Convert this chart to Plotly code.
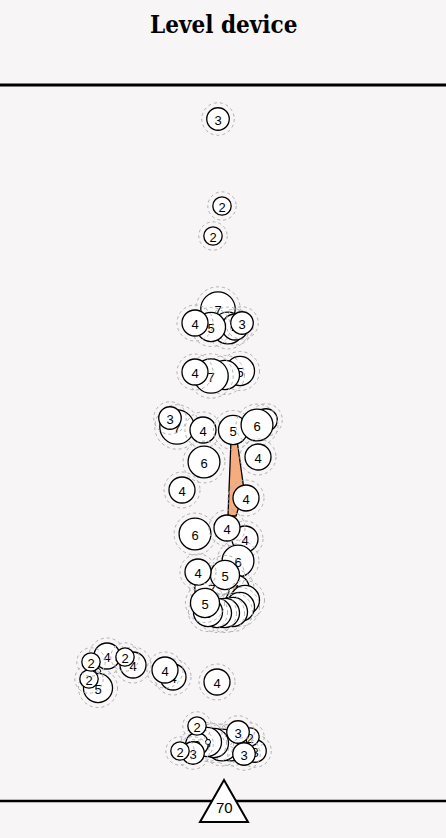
import plotly.graph_objects as go
import math

# ---- data (drawing order: earlier = behind) ----
pos_x = [218, 222, 213,
         218, 228, 235, 242, 211, 195,
         240, 225, 211, 195,
         177, 170, 203, 233, 266, 257,
         204, 258, 182, 246, 195, 245, 227,
         238, 236, 212, 225, 198, 245, 240, 233, 225, 217, 208, 205,
         98, 89, 107, 91, 133, 125, 173, 165, 217,
         255, 250, 231, 222, 214, 207, 197, 238, 244, 193, 180, 197]
pos_y = [119, 206, 236,
         309, 328, 327, 323, 327, 323,
         371, 375, 376, 372,
         427, 418, 430, 430, 420, 425,
         462, 457, 490, 498, 534, 539, 528,
         561, 588, 588, 575, 572, 600, 607, 612, 613, 613, 612, 603,
         688, 679, 656, 662, 665, 657, 677, 670, 682,
         751, 737, 745, 745, 743, 742, 744, 732, 754, 753, 751, 726]
values = [3, 2, 2,
          7, 6, 4, 3, 5, 4,
          5, 5, 7, 4,
          7, 3, 4, 5, 3, 6,
          6, 4, 4, 4, 6, 4, 4,
          6, 4, 7, 5, 4, 5, 5, 5, 5, 5, 5, 5,
          5, 2, 4, 2, 4, 2, 4, 4, 4,
          3, 2, 6, 6, 5, 5, 3, 3, 3, 3, 2, 2]
# tiny circles (drawn after the circle with the given index)
tiny_x = [98, 208]
tiny_y = [671, 742]
tiny_after = [39, 55]

wedge_x = [231, 237, 244, 236, 228]
wedge_y = [440, 440, 490, 516, 516]

marker_x = [224]
marker_y = [801]
marker_label = ["70"]

title = "Level device"

# ---- figure ----
fig = go.Figure()
fig.add_trace(go.Scatter(x=[None], y=[None], showlegend=False))

shapes = []
shapes.append(dict(type="line", xref="paper", yref="y", x0=0, x1=1, y0=85, y1=85,
                   line=dict(color="black", width=3)))
shapes.append(dict(type="line", xref="paper", yref="y", x0=0, x1=1, y0=801, y1=801,
                   line=dict(color="black", width=2.5)))

path = "M " + " L ".join(f"{a},{b}" for a, b in zip(wedge_x, wedge_y)) + " Z"
shapes.append(dict(type="path", xref="x", yref="y", path=path,
                   fillcolor="#F7AC7E", line=dict(color="black", width=1.3)))

for i, (x, y, v) in enumerate(zip(pos_x, pos_y, values)):
    r = 6.5 * math.sqrt(v)
    rr = r + 5
    shapes.append(dict(type="circle", xref="x", yref="y",
                       x0=x - rr, x1=x + rr, y0=y - rr, y1=y + rr,
                       fillcolor="rgba(0,0,0,0)",
                       line=dict(color="#b0b0b0", width=1, dash="dot")))
    shapes.append(dict(type="circle", xref="x", yref="y",
                       x0=x - r, x1=x + r, y0=y - r, y1=y + r,
                       fillcolor="white",
                       line=dict(color="black", width=1.3),
                       label=dict(text=str(v), textposition="middle center",
                                  font=dict(family="Liberation Sans", size=13, color="black"))))
    for tx, ty, ta in zip(tiny_x, tiny_y, tiny_after):
        if ta == i:
            shapes.append(dict(type="circle", xref="x", yref="y",
                               x0=tx - 2.5, x1=tx + 2.5, y0=ty - 2.5, y1=ty + 2.5,
                               fillcolor="white", line=dict(color="black", width=1)))

for mx, my in zip(marker_x, marker_y):
    tri = f"M {mx},{my - 21} L {mx + 24},{my + 21} L {mx - 24},{my + 21} Z"
    shapes.append(dict(type="path", xref="x", yref="y", path=tri,
                       fillcolor="white", line=dict(color="black", width=2)))

annotations = [dict(x=0.5, y=24, xref="paper", yref="y", text="<b>" + title + "</b>",
                    showarrow=False, font=dict(family="DejaVu Serif Condensed", size=24, color="black"))]
for mx, my, t in zip(marker_x, marker_y, marker_label):
    annotations.append(dict(x=mx, y=my + 6, xref="x", yref="y", text=t, showarrow=False,
                            font=dict(family="Liberation Sans", size=15, color="black")))

fig.update_layout(
    width=446, height=838,
    margin=dict(l=0, r=0, t=0, b=0),
    paper_bgcolor="#f7f5f5", plot_bgcolor="#f7f5f5",
    xaxis=dict(range=[0, 446], visible=False, fixedrange=True),
    yaxis=dict(range=[838, 0], visible=False, fixedrange=True),
    shapes=shapes, annotations=annotations, showlegend=False,
)
fig.write_html("out.html", config={"displayModeBar": False},
               post_script="document.body.style.margin='0';document.body.style.background='#f7f5f5';")
